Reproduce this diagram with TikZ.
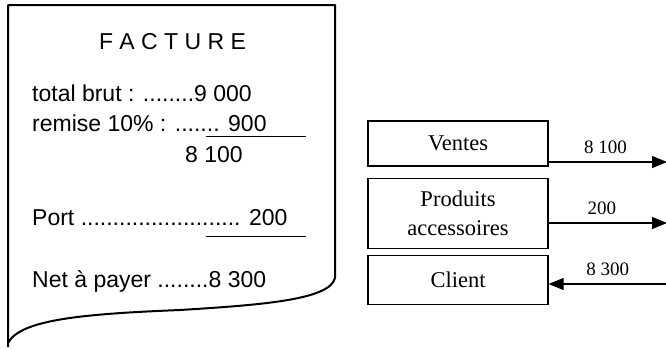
\documentclass[tikz,border=0pt]{standalone}
\usepackage{fontspec}
\setmainfont{Liberation Serif}
\newfontfamily\arial{Liberation Sans}
\usepackage{tikz}
\usetikzlibrary{positioning,arrows.meta,calc}

\begin{document}
\begin{tikzpicture}[
  x=1pt, y=-1pt,
  paper/.style={line width=2pt, line join=round},
  facture/.style={anchor=base west, inner sep=0pt, font=\arial\fontsize{23}{27}\selectfont},
  trait/.style={line width=1.2pt},
  block/.style={draw, line width=1.2pt, minimum width=180pt, align=center, inner sep=0pt, font=\fontsize{22.5}{29}\selectfont},
  amount/.style={above=8pt, inner sep=0pt, font=\fontsize{19}{22}\selectfont},
  arrow/.style={-{Triangle[length=15pt,width=12pt]}, line width=1.2pt}
]
\useasboundingbox (0,0) rectangle (666,349);

% la facture
\draw[paper] (8,347) -- (8,5) -- (335,5) -- (335,278)
  .. controls (330,300) and (260,305) .. (180,310)
  .. controls (80,314) and (20,320) .. (8,343);
\node[font=\arial\fontsize{23}{27}\selectfont, anchor=base, inner sep=0pt] (titre) at (172.5,49) {F A C T U R E};
\node[facture] (brut) at (32,101.7) {total brut : ........9 000};
\node[facture] (remise) at (32,131.7) {remise 10\% : ....... 900};
\draw[trait] (205.7,136.7) -- (306,136.7);
\node[facture] (sousTotal) at (185,162.7) {8 100};
\node[facture] (port) at (32,225) {Port ......................... 200};
\draw[trait] (205.7,236.7) -- (306,236.7);
\node[facture] (net) at (32,287) {Net à payer ........8 300};

% les comptes
\node[block, minimum height=45pt] (ventes) at (458,143.5) {Ventes};
\node[block, minimum height=70pt, below=11pt of ventes] (produits) {Produits\\accessoires};
\node[block, minimum height=49pt, below=6pt of produits] (client) {Client};

\coordinate (vOut) at (667,162);
\coordinate (pOut) at (667,223);
\coordinate (cIn) at (667,284);
\draw[arrow] (ventes.east |- vOut) -- node[amount, pos=0.48] {8 100} (vOut);
\draw[arrow] (produits.east |- pOut) -- node[amount, pos=0.45] {200} (pOut);
\draw[arrow] (cIn) -- node[amount, pos=0.5] {8 300} (client.east |- cIn);
\end{tikzpicture}
\end{document}
